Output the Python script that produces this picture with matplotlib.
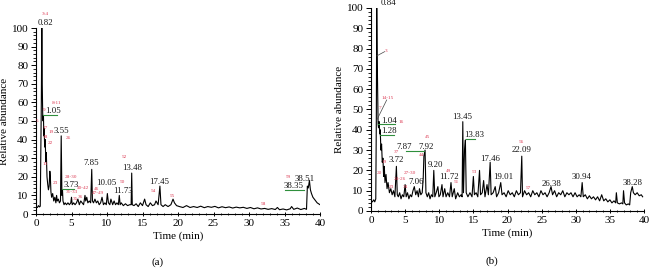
import matplotlib
matplotlib.use("Agg")
import matplotlib.pyplot as plt
from matplotlib.ticker import MultipleLocator

plt.rcParams['font.family'] = ['Liberation Serif', 'DejaVu Serif']

# ---- chromatogram (a) ----
time_a = [0, 0.2, 0.35, 0.5, 0.6, 0.68, 0.75, 0.82, 0.88, 0.95, 1.0, 1.05, 1.1, 1.15, 1.22, 1.3,
          1.38, 1.45, 1.55, 1.65, 1.75, 1.85, 1.95, 2.02, 2.1, 2.2, 2.35, 2.5, 2.65, 2.8, 2.9, 3.0,
          3.15, 3.3, 3.45, 3.55, 3.65, 3.73, 3.8, 3.95, 4.1, 4.3, 4.5, 4.7, 4.9, 5.0, 5.1, 5.3, 5.5,
          5.7, 5.9, 6.1, 6.3, 6.5, 6.7, 6.9, 7.0, 7.15, 7.3, 7.5, 7.7, 7.85, 7.95, 8.1, 8.3, 8.5,
          8.7, 8.9, 9.1, 9.3, 9.5, 9.7, 9.9, 10.05, 10.2, 10.4, 10.55, 10.8, 11.0, 11.2, 11.4, 11.6,
          11.73, 11.85, 12.0, 12.3, 12.6, 12.9, 13.2, 13.4, 13.48, 13.56, 13.8, 14.1, 14.4, 14.7,
          15.0, 15.3, 15.5, 15.8, 16.1, 16.4, 16.7, 16.9, 17.2, 17.45, 17.6, 17.9, 18.2, 18.6, 19.0,
          19.3, 19.5, 19.8, 20.2, 20.7, 21.2, 21.7, 22.2, 22.7, 23.2, 23.7, 24.2, 24.7, 25.2, 25.7,
          26.2, 26.7, 27.2, 27.7, 28.2, 28.7, 29.2, 29.7, 30.2, 30.7, 31.2, 31.7, 32.2, 32.7, 33.2,
          33.7, 34.0, 34.3, 34.8, 35.3, 35.8, 36.0, 36.3, 36.8, 37.3, 37.8, 38.1, 38.22, 38.35,
          38.51, 38.65, 38.8, 39.0, 39.2, 39.4, 39.6, 39.8, 40.0]
abund_a = [4, 3.5, 4.5, 3.8, 4.2, 35, 60, 100, 70, 52, 50, 53, 42, 46, 36, 40,
           28, 33, 20, 16, 13, 15, 23, 20, 12, 9, 11, 7, 9, 6, 10, 7,
           8, 6, 7, 42, 10, 13, 7, 5, 6, 5, 6, 5, 6, 9, 5, 6, 5,
           6, 8, 5, 7, 6, 5, 10, 7, 9, 6, 7, 6, 24, 7, 6, 8, 6,
           7, 5, 6, 9, 5, 6, 5, 11, 6, 5, 8, 5, 7, 5, 6, 5,
           10, 5, 6, 4.5, 5.5, 4.5, 5, 5, 22, 5, 4.5, 5.5, 4, 6,
           4.5, 8, 5, 4, 6, 4.5, 5, 7, 5, 15, 5, 4, 5, 4, 5,
           8, 6, 4.5, 4, 3.5, 4.5, 3.5, 4, 3.5, 4.2, 3.4, 4, 3.6, 4.1, 3.3,
           3.9, 3.4, 3.8, 3.2, 3.7, 3.3, 3.6, 3.0, 3.5, 2.8, 3.3, 2.7, 3.0, 2.5, 2.9,
           2.4, 3.5, 2.3, 2.7, 2.2, 2.8, 4, 2.5, 3.2, 2.4, 3, 2.5, 15, 14,
           18, 13, 11, 9, 8, 7, 6, 5.5, 5]

# peak labels: (text, x, y)
rt_labels_a = [("0.82", 1.3, 102.5), ("1.05", 2.4, 55.5), ("3.55", 3.6, 44.5), ("3.73", 4.9, 15.8),
               ("7.85", 7.75, 27.5), ("10.05", 9.9, 16.5), ("11.73", 12.2, 12.5), ("13.48", 13.5, 25),
               ("17.45", 17.3, 17), ("38.51", 37.8, 19), ("38.35", 36.3, 14.8)]
num_labels_a = [("3-4", 1.3, 107.5), ("8-11", 2.9, 59.5), ("9", 1.1, 56), ("5", 0.1, 50),
                ("17", 1.3, 46), ("19", 2.1, 44), ("18", 1.3, 41.5), ("22", 2.0, 38), ("26", 4.5, 41),
                ("13", 1.3, 27), ("23", 2.7, 16.6), ("28-30", 4.9, 20), ("31-33", 5.1, 12),
                ("40-42", 6.6, 14), ("35", 5.5, 8), ("36", 6.2, 9.3), ("46", 8.5, 13.4),
                ("47-49", 8.8, 11.2), ("50", 12.1, 17.4), ("52", 12.4, 30.8), ("54", 16.5, 12.4),
                ("55", 19.2, 9.8), ("58", 32.0, 5.4), ("59", 35.6, 20)]
green_a = [((1.05, 3.0), (53, 53)), ((3.6, 5.3), (13.4, 13.4)), ((35.0, 37.8), (13, 13))]

# ---- chromatogram (b) ----
time_b = [0, 0.2, 0.4, 0.55, 0.7, 0.78, 0.84, 0.9, 0.97, 1.04, 1.1, 1.2, 1.28, 1.35, 1.45, 1.55,
          1.65, 1.75, 1.85, 1.95, 2.05, 2.2, 2.35, 2.5, 2.7, 2.9, 3.1, 3.3, 3.5, 3.72, 3.85, 4.0,
          4.2, 4.4, 4.6, 4.8, 5.0, 5.15, 5.35, 5.55, 5.75, 5.95, 6.15, 6.35, 6.55, 6.75, 6.95, 7.1,
          7.3, 7.5, 7.65, 7.75, 7.92, 8.05, 8.25, 8.45, 8.65, 8.85, 9.05, 9.2, 9.35, 9.55, 9.8,
          9.95, 10.15, 10.4, 10.55, 10.8, 11.0, 11.25, 11.5, 11.72, 11.9, 12.2, 12.4, 12.7, 12.95,
          13.2, 13.35, 13.45, 13.55, 13.7, 13.83, 13.95, 14.2, 14.5, 14.8, 15.0, 15.15, 15.4,
          15.65, 15.9, 16.05, 16.3, 16.5, 16.7, 17.0, 17.2, 17.46, 17.6, 17.9, 18.2, 18.4, 18.7,
          19.01, 19.2, 19.5, 19.8, 20.1, 20.4, 20.7, 21.0, 21.3, 21.6, 21.9, 22.09, 22.2, 22.5,
          22.8, 23.1, 23.4, 23.7, 24.0, 24.3, 24.6, 24.9, 25.2, 25.5, 25.8, 26.1, 26.38, 26.6,
          26.9, 27.2, 27.5, 27.8, 28.1, 28.4, 28.7, 29.0, 29.3, 29.6, 29.9, 30.2, 30.5, 30.75,
          30.94, 31.1, 31.4, 31.7, 32.0, 32.3, 32.6, 32.9, 33.2, 33.5, 33.8, 34.1, 34.4, 34.7,
          35.0, 35.3, 35.6, 35.85, 35.95, 36.1, 36.4, 36.7, 36.9, 37.0, 37.15, 37.4, 37.7, 37.9,
          38.05, 38.28, 38.45, 38.7, 39.0, 39.3, 39.6, 39.8]
abund_b = [5, 4.5, 5.5, 4.5, 6, 45, 100, 78, 60, 43, 41, 44, 38, 40, 30, 33,
           24, 26, 17, 22, 14, 18, 11, 14, 9, 11, 8, 10, 7, 22, 8, 7,
           9, 6, 8, 7, 13, 7, 9, 6, 8, 7, 10, 12, 8, 10, 7, 11,
           8, 9, 16, 27, 30, 9, 7, 9, 6, 8, 7, 20, 7, 9, 12,
           7, 8, 13, 7, 11, 7, 9, 7, 14, 7, 11, 6, 9, 7,
           8, 7, 44, 9, 30, 35, 9, 7, 9, 7, 17, 8, 9,
           7, 20, 8, 9, 15, 7, 13, 8, 24, 8, 9, 12, 7, 9,
           14, 8, 9, 7, 10, 8, 9, 7, 10, 8, 9, 27, 7, 10,
           8, 9, 7, 10, 8, 9, 7, 10, 8, 9, 7, 9, 12, 8,
           10, 7, 9, 8, 10, 7, 9, 8, 9, 7, 9, 7, 8, 7,
           14, 7, 8, 6, 7.5, 6, 7, 5.5, 7, 5, 8, 5, 6, 4.5,
           5.5, 4, 5, 4, 9, 4, 3.5, 4, 3.5, 10, 4, 3, 3.5, 3,
           9, 12, 9, 8, 9, 7.5, 8, 7]

rt_labels_b = [("0.84", 2.6, 102.5), ("1.04", 2.7, 44.5), ("1.28", 2.7, 39.5), ("3.72", 3.7, 25.2),
               ("7.87", 4.9, 31.7), ("7.92", 8.0, 31.7), ("7.06", 6.6, 14.2), ("9.20", 9.4, 22.8),
               ("11.72", 11.4, 16.7), ("13.45", 13.4, 46.5), ("13.83", 15.1, 37.4),
               ("17.46", 17.4, 25.6), ("19.01", 19.4, 16.7), ("22.09", 22.1, 30),
               ("26.38", 26.4, 13.3), ("30.94", 30.9, 16.7), ("38.28", 38.3, 13.8)]
num_labels_b = [("3", 2.2, 79), ("14-15", 2.5, 55.6), ("7", 1.3, 50.7), ("16", 4.4, 44),
                ("45", 8.3, 36.3), ("37", 3.7, 29), ("44", 7.4, 27.6), ("19", 1.9, 24.3),
                ("20", 1.3, 18.7), ("23", 3.0, 12), ("27-30", 5.7, 18.7), ("24-26", 4.2, 15.6),
                ("34", 5.0, 12), ("49", 11.3, 19.8), ("51", 12.5, 14.3), ("53", 15.1, 19),
                ("56", 22.1, 34), ("57", 23.1, 11.5)]
green_b = [((1.0, 3.5), (42.8, 42.8)), ((1.3, 3.3), (37.4, 37.4)), ((5.2, 7.8), (29.6, 29.6)),
           ((13.85, 15.3), (35.3, 35.3))]
grey_b = [((0.85, 2.0), (76.4, 78.5)), ((0.85, 2.3), (44.8, 54.7))]

RED = '#dc3d55'
GREEN = '#2f8f3c'

fig = plt.figure(figsize=(6.51, 2.69), dpi=100)
ax_a = fig.add_axes([36 / 651, 1 - 214 / 269, 284 / 651, 186 / 269])
ax_b = fig.add_axes([371 / 651, 1 - 211 / 269, 273 / 651, 203 / 269])


def draw_panel(ax, t, y, rt_labels, num_labels, greens, greys):
    ax.plot(t, y, color='black', lw=0.8)
    for (xs, ys) in greens:
        ax.plot(xs, ys, color=GREEN, lw=0.8, clip_on=False)
    for (xs, ys) in greys:
        ax.plot(xs, ys, color='#444444', lw=0.5, clip_on=False)
    for txt, x, yy in rt_labels:
        ax.text(x, yy, txt, fontsize=6.3, ha='center', va='center', color='#111111')
    for txt, x, yy in num_labels:
        ax.text(x, yy, txt, fontsize=3.8, ha='center', va='center', color=RED)

    ax.set_xlim(0, 40)
    ax.set_ylim(0, 100)
    ax.spines['top'].set_visible(False)
    ax.spines['right'].set_visible(False)
    ax.xaxis.set_major_locator(MultipleLocator(5))
    ax.xaxis.set_minor_locator(MultipleLocator(1))
    ax.yaxis.set_major_locator(MultipleLocator(10))
    ax.yaxis.set_minor_locator(MultipleLocator(2))
    ax.tick_params(axis='both', which='major', labelsize=8, length=3.5, width=0.7, pad=2)
    ax.tick_params(axis='both', which='minor', length=2, width=0.6)
    ax.tick_params(axis='x', which='both', direction='inout')
    ax.tick_params(axis='y', which='both', direction='out')
    ax.set_xlabel("Time (min)", fontsize=8, labelpad=2)
    ax.set_ylabel("Relative abundance", fontsize=8, labelpad=2)


draw_panel(ax_a, time_a, abund_a, rt_labels_a, num_labels_a, green_a, [])
draw_panel(ax_b, time_b, abund_b, rt_labels_b, num_labels_b, green_b, grey_b)

fig.text(158 / 651, 1 - 262 / 269, "(a)", fontsize=8, ha='center', va='center')
fig.text(492 / 651, 1 - 261 / 269, "(b)", fontsize=8, ha='center', va='center')

fig.savefig("out.png", dpi=100)
